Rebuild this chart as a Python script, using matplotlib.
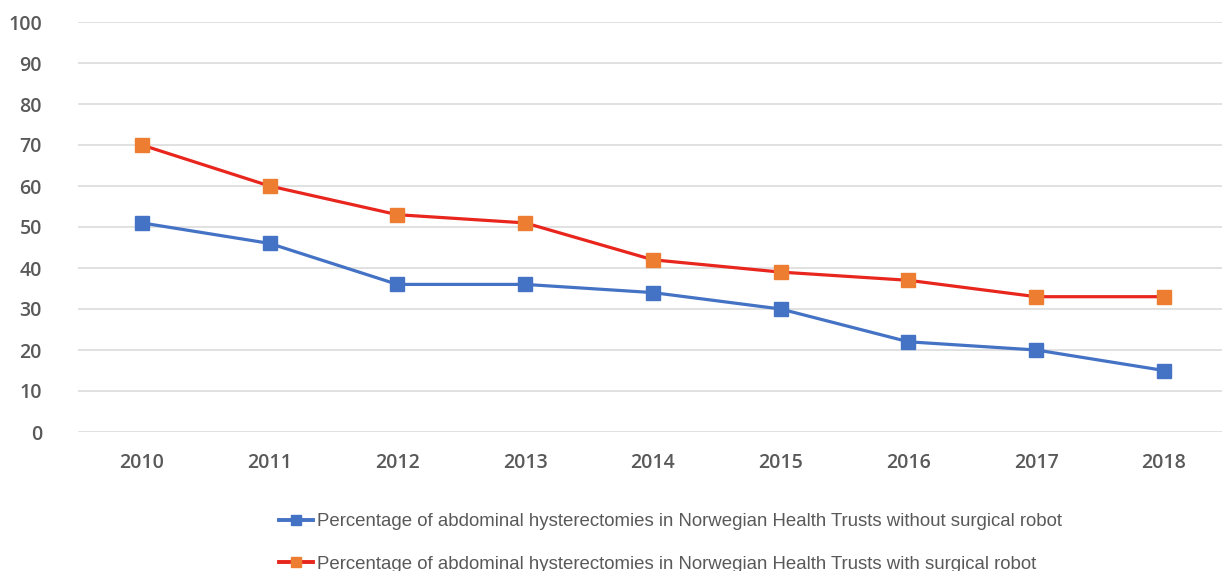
#!/usr/bin/env python3
"""Abdominal hysterectomy share in Norwegian Health Trusts, 2010-2018."""

import matplotlib
matplotlib.use("Agg")
import matplotlib.pyplot as plt

years = ["2010", "2011", "2012", "2013", "2014", "2015", "2016", "2017", "2018"]
without_robot = [51, 46, 36, 36, 34, 30, 22, 20, 15]
with_robot = [70, 60, 53, 51, 42, 39, 37, 33, 33]

label_without = "Percentage of abdominal hysterectomies in Norwegian Health Trusts without surgical robot"
label_with = "Percentage of abdominal hysterectomies in Norwegian Health Trusts with surgical robot"

W, H = 1224, 571
fig = plt.figure(figsize=(W / 100, H / 100), dpi=100)
ax = fig.add_axes([78 / W, 1 - 432 / H, (1222 - 78) / W, (432 - 22) / H])

x = list(range(len(years)))
ax.plot(x, without_robot, color="#4472C4", linewidth=2.3, marker="s",
        markersize=10, markerfacecolor="#4472C4", markeredgecolor="#4472C4",
        label=label_without, zorder=3)
ax.plot(x, with_robot, color="#E8261E", linewidth=2.3, marker="s",
        markersize=10, markerfacecolor="#ED7D31", markeredgecolor="#ED7D31",
        label=label_with, zorder=3)

ax.set_xlim(-0.5, 8.454)
ax.set_ylim(0, 100)
ax.set_yticks(range(0, 101, 10))
ax.set_xticks(x)
ax.set_xticklabels(years)

ax.grid(axis="y", color="#D9D9D9", linewidth=1.1)
ax.set_axisbelow(True)
for side in ["top", "right", "left", "bottom"]:
    ax.spines[side].set_visible(False)
ax.tick_params(axis="both", length=0, labelsize=14, labelcolor="#595959")
ax.tick_params(axis="y", pad=26)
ax.tick_params(axis="x", pad=15)
for lbl in ax.get_xticklabels() + ax.get_yticklabels():
    lbl.set_fontfamily("Open Sans")
    lbl.set_fontweight("semibold")

leg = fig.legend(loc="upper left", bbox_to_anchor=(279 / W, 1 - 513 / H),
                 frameon=False, ncol=1, handlelength=1.85, handletextpad=0.2,
                 labelspacing=1.38, borderaxespad=0, borderpad=0,
                 prop={"family": "Liberation Sans", "size": 13.4})
for text in leg.get_texts():
    text.set_color("#595959")
for handle in leg.legend_handles:
    handle.set_markersize(7.5)
    handle.set_linewidth(2.8)

fig.savefig("out.png", dpi=100)
